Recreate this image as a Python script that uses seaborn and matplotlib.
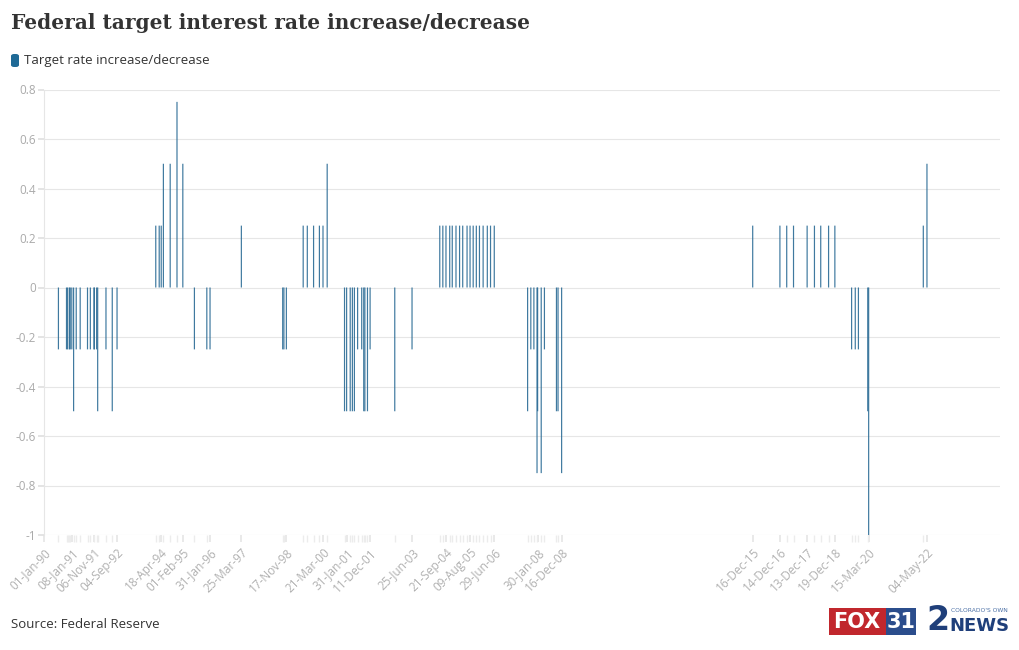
import numpy as np
import pandas as pd
import matplotlib
matplotlib.use("Agg")
import matplotlib.pyplot as plt
import matplotlib.dates as mdates
from matplotlib.patches import FancyBboxPatch, Rectangle
import seaborn as sns

# ---------------- data ----------------
dates = [
    "1990-01-01", "1990-07-13", "1990-10-29", "1990-11-13", "1990-12-07", "1990-12-18",
    "1991-01-08", "1991-02-01", "1991-03-08", "1991-04-30", "1991-08-06", "1991-09-13",
    "1991-10-31", "1991-11-06", "1991-12-06", "1991-12-20",
    "1992-04-09", "1992-07-02", "1992-09-04",
    "1994-02-04", "1994-03-22", "1994-04-18", "1994-05-17", "1994-08-16", "1994-11-15",
    "1995-02-01", "1995-07-06", "1995-12-19", "1996-01-31", "1997-03-25",
    "1998-09-29", "1998-10-15", "1998-11-17",
    "1999-06-30", "1999-08-24", "1999-11-16", "2000-02-02", "2000-03-21", "2000-05-16",
    "2001-01-03", "2001-01-31", "2001-03-20", "2001-04-18", "2001-05-15", "2001-06-27",
    "2001-08-21", "2001-09-17", "2001-10-02", "2001-11-06", "2001-12-11",
    "2002-11-06", "2003-06-25",
    "2004-06-30", "2004-08-10", "2004-09-21", "2004-11-10", "2004-12-14",
    "2005-02-02", "2005-03-22", "2005-05-03", "2005-06-30", "2005-08-09", "2005-09-20",
    "2005-11-01", "2005-12-13", "2006-01-31", "2006-03-28", "2006-05-10", "2006-06-29",
    "2007-09-18", "2007-10-31", "2007-12-11",
    "2008-01-22", "2008-01-30", "2008-03-18", "2008-04-30", "2008-10-08", "2008-10-29",
    "2008-12-16",
    "2015-12-16", "2016-12-14", "2017-03-15", "2017-06-14", "2017-12-13",
    "2018-03-21", "2018-06-13", "2018-09-26", "2018-12-19",
    "2019-07-31", "2019-09-18", "2019-10-30",
    "2020-03-03", "2020-03-15", "2022-03-16", "2022-05-04",
]
changes = [
    0, -0.25, -0.25, -0.25, -0.25, -0.25,
    -0.25, -0.5, -0.25, -0.25, -0.25, -0.25,
    -0.25, -0.25, -0.25, -0.5,
    -0.25, -0.5, -0.25,
    0.25, 0.25, 0.25, 0.5, 0.5, 0.75,
    0.5, -0.25, -0.25, -0.25, 0.25,
    -0.25, -0.25, -0.25,
    0.25, 0.25, 0.25, 0.25, 0.25, 0.5,
    -0.5, -0.5, -0.5, -0.5, -0.5, -0.25,
    -0.25, -0.5, -0.5, -0.5, -0.25,
    -0.5, -0.25,
    0.25, 0.25, 0.25, 0.25, 0.25,
    0.25, 0.25, 0.25, 0.25, 0.25, 0.25,
    0.25, 0.25, 0.25, 0.25, 0.25, 0.25,
    -0.5, -0.25, -0.25,
    -0.75, -0.5, -0.75, -0.25, -0.5, -0.5,
    -0.75,
    0.25, 0.25, 0.25, 0.25, 0.25,
    0.25, 0.25, 0.25, 0.25,
    -0.25, -0.25, -0.25,
    -0.5, -1.0, 0.25, 0.5,
]
tick_dates = [
    "1990-01-01", "1991-01-08", "1991-11-06", "1992-09-04", "1994-04-18", "1995-02-01",
    "1996-01-31", "1997-03-25", "1998-11-17", "2000-03-21", "2001-01-31", "2001-12-11",
    "2003-06-25", "2004-09-21", "2005-08-09", "2006-06-29", "2008-01-30", "2008-12-16",
    "2015-12-16", "2016-12-14", "2017-12-13", "2018-12-19", "2020-03-15", "2022-05-04",
]
y_ticks = [0.8, 0.6, 0.4, 0.2, 0, -0.2, -0.4, -0.6, -0.8, -1]
y_tick_labels = ["0.8", "0.6", "0.4", "0.2", "0", "-0.2", "-0.4", "-0.6", "-0.8", "-1"]

title = "Federal target interest rate increase/decrease"
series_name = "Target rate increase/decrease"
source = "Source: Federal Reserve"

# ---------------- plotting ----------------
sns.set_theme(style="white")
plt.rcParams["font.family"] = ["Open Sans", "DejaVu Sans"]

df = pd.DataFrame({"date": pd.to_datetime(dates), "change": changes})
df["x"] = mdates.date2num(df["date"])

fig = plt.figure(figsize=(10.2, 6.5), dpi=100)
ax = fig.add_axes([44 / 1020, 1 - 535 / 650, (1000 - 44) / 1020, (535 - 89.5) / 650])

bar_color = "#2a6b95"
xs = np.sort(df["x"].unique())
min_gap = np.min(np.diff(xs))
bar_days = 16.0
sns.barplot(data=df, x="x", y="change", native_scale=True, ax=ax,
            color=bar_color, saturation=1, width=bar_days / min_gap,
            errorbar=None, linewidth=0)
for p in ax.patches:
    p.set_snap(False)
    p.set_alpha(0.9)

ax.set_xlim(mdates.date2num(pd.Timestamp("1990-01-01")),
            mdates.date2num(pd.Timestamp("2025-01-05")))
ax.set_ylim(-1, 0.8)

# grid
ax.set_yticks(y_ticks)
ax.set_yticklabels(y_tick_labels)
ax.yaxis.grid(True, color="#e6e6e6", linewidth=0.8)
ax.set_axisbelow(True)
for s in ["top", "right", "bottom"]:
    ax.spines[s].set_visible(False)
ax.spines["left"].set_color("#e6e6e6")
ax.spines["left"].set_linewidth(0.8)

ax.tick_params(axis="y", which="both", left=True, length=4, color="#e0e0e0",
               labelsize=8.5, labelcolor="#aaaaaa", pad=2)

tick_x = mdates.date2num(pd.to_datetime(tick_dates))
tick_labels = [d.strftime("%d-%b-%y") for d in pd.to_datetime(tick_dates)]
ax.set_xticks(tick_x)
ax.set_xticklabels(tick_labels, rotation=45, ha="right", rotation_mode="anchor")
ax.set_xticks(df["x"].values, minor=True)
ax.tick_params(axis="x", which="major", bottom=True, length=5, color="#e6e6e6",
               labelsize=8.5, labelcolor="#b0b0b0", pad=3)
ax.tick_params(axis="x", which="minor", bottom=True, length=5, color="#ececec")
ax.set_xlabel("")
ax.set_ylabel("")

# title
fig.text(11 / 1020, 1 - 23 / 650, title, fontsize=14.5, fontweight="bold",
         family=["DejaVu Serif"], color="#333333", va="center", ha="left")

# legend
fig.patches.append(FancyBboxPatch((11 / 1020, 1 - 67 / 650), 8 / 1020, 13 / 650,
                                  boxstyle="round,pad=0,rounding_size=0.003",
                                  transform=fig.transFigure, facecolor="#1f6a96",
                                  edgecolor="none"))
fig.text(24 / 1020, 1 - 60.5 / 650, series_name, fontsize=9.5, color="#333333",
         va="center", ha="left")

# source
fig.text(11 / 1020, 1 - 625 / 650, source, fontsize=9.5, color="#333333",
         va="center", ha="left")

# logos (approximate, as text)
fig.patches.append(Rectangle((829 / 1020, 1 - 635 / 650), 57 / 1020, 27 / 650,
                             transform=fig.transFigure, facecolor="#c1272d",
                             edgecolor="none"))
fig.patches.append(Rectangle((886 / 1020, 1 - 635 / 650), 30 / 1020, 27 / 650,
                             transform=fig.transFigure, facecolor="#2b4d8c",
                             edgecolor="none"))
fig.text(857 / 1020, 1 - 621.5 / 650, "FOX", fontsize=15, fontweight="bold",
         color="white", ha="center", va="center", family=["DejaVu Sans"])
fig.text(901 / 1020, 1 - 621.5 / 650, "31", fontsize=15, fontweight="bold",
         color="white", ha="center", va="center", family=["DejaVu Sans"])
fig.text(926 / 1020, 1 - 621 / 650, "2", fontsize=24, fontweight="bold",
         color="#1f3f7a", ha="left", va="center", family=["DejaVu Sans"])
fig.text(951 / 1020, 1 - 610 / 650, "COLORADO'S OWN", fontsize=4.3,
         color="#4a6fa5", ha="left", va="center", family=["DejaVu Sans"])
fig.text(949 / 1020, 1 - 626 / 650, "NEWS", fontsize=13, fontweight="bold",
         color="#1f3f7a", ha="left", va="center",
         family=["DejaVu Sans"])

fig.savefig("out.png", dpi=100, facecolor="white")
